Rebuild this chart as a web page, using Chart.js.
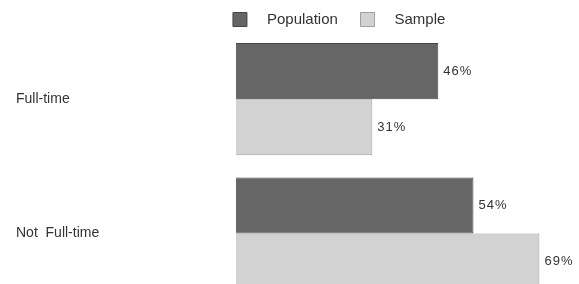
<!DOCTYPE html>
<html>
<head>
<meta charset="utf-8">
<script src="https://cdn.jsdelivr.net/npm/chart.js@4.4.1/dist/chart.umd.min.js"></script>
<style>
  html, body { margin: 0; padding: 0; background: #fff; overflow: hidden; }
  #wrap { width: 579px; height: 284px; overflow: hidden; }
</style>
</head>
<body>
<div id="wrap"><canvas id="chart" width="579" height="312"></canvas></div>
<script>
const categories = ["Full-time", "Not  Full-time"];
const population = [46, 54];
const sample = [31, 69];

// draws "46%" etc. just past the end of each bar
const valueLabels = {
  id: "valueLabels",
  afterDatasetsDraw(chart) {
    const ctx = chart.ctx;
    ctx.save();
    ctx.font = "13px 'Liberation Sans', Arial, sans-serif";
    ctx.letterSpacing = "1px";
    ctx.fillStyle = "#333";
    ctx.textBaseline = "middle";
    chart.data.datasets.forEach((ds, i) => {
      chart.getDatasetMeta(i).data.forEach((bar, j) => {
        ctx.fillText(ds.data[j] + "%", bar.x + 5, bar.y);
      });
    });
    ctx.restore();
  }
};

// nudge the legend right and down, like the original
const legendShift = {
  id: "legendShift",
  afterLayout(chart) {
    const lg = chart.legend;
    lg.left += 50;
    lg.right += 50;
    lg.top += 5;
    lg.bottom += 5;
  }
};

new Chart(document.getElementById("chart"), {
  type: "bar",
  data: {
    labels: categories,
    datasets: [
      { label: "Population", data: population, backgroundColor: "#666666", borderColor: "#474747", borderWidth: 1 },
      { label: "Sample", data: sample, backgroundColor: "#d2d2d2", borderColor: "#a0a0a0", borderWidth: 1 }
    ]
  },
  options: {
    indexAxis: "y",
    responsive: false,
    animation: false,
    layout: { padding: { left: 16, right: 0, top: 1, bottom: 2 } },
    datasets: { bar: { categoryPercentage: 0.835, barPercentage: 1 } },
    scales: {
      x: { display: false, min: 0, max: 78 },
      y: {
        grid: { display: false },
        border: { display: false },
        afterFit: s => { s.width = 220; },
        ticks: {
          crossAlign: "far",
          color: "#333",
          font: { family: "'Liberation Sans', Arial, sans-serif", size: 14 }
        }
      }
    },
    plugins: {
      tooltip: { enabled: false },
      legend: {
        position: "top",
        labels: {
          boxWidth: 14,
          boxHeight: 14,
          padding: 6,
          color: "#333",
          font: { family: "'Liberation Sans', Arial, sans-serif", size: 15 },
          generateLabels: chart => Chart.defaults.plugins.legend.labels.generateLabels(chart)
            .map(item => ({ ...item, text: "   " + item.text + "    " }))
        }
      }
    }
  },
  plugins: [valueLabels, legendShift]
});
</script>
</body>
</html>
